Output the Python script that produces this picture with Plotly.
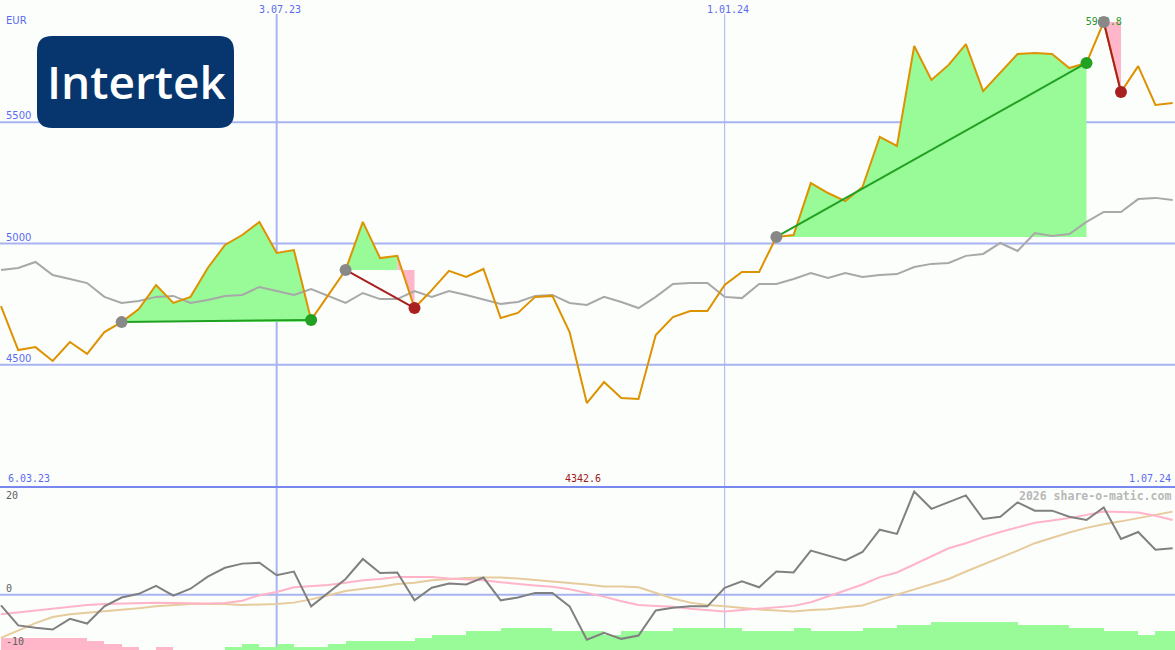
import plotly.graph_objects as go
import pandas as pd

# ---------------- data ----------------
dates = pd.date_range("2023-03-13", periods=69, freq="7D")

price = [4742, 4561, 4573, 4516, 4594, 4545, 4635, 4676, 4730, 4829,
         4755, 4780, 4899, 4994, 5035, 5089, 4961, 4973, 4685, 4788,
         4891, 5089, 4940, 4949, 4734, 4808, 4887, 4862, 4895, 4693,
         4714, 4780, 4784, 4635, 4342.6, 4429, 4363, 4359, 4623, 4697,
         4722, 4722, 4829, 4883, 4883, 5027, 5035, 5249, 5208, 5175,
         5233, 5439, 5402, 5814, 5674, 5736, 5822, 5628, 5703, 5781,
         5785, 5781, 5723, 5744, 5912.8, 5624, 5731, 5571, 5579]

bench = [4891, 4899, 4924, 4870, 4854, 4837, 4780, 4755, 4763, 4780,
         4784, 4755, 4767, 4784, 4788, 4821, 4804, 4788, 4812, 4784,
         4755, 4796, 4771, 4771, 4804, 4780, 4804, 4788, 4771, 4751,
         4759, 4784, 4788, 4755, 4747, 4780, 4759, 4734, 4780, 4833,
         4837, 4837, 4780, 4775, 4833, 4833, 4854, 4878, 4858, 4878,
         4862, 4870, 4874, 4903, 4916, 4920, 4949, 4957, 5002, 4969,
         5043, 5031, 5039, 5089, 5130, 5130, 5183, 5188, 5179]

osc = [-2.3, -6.6, -7.1, -7.5, -5.2, -6.2, -2.5, -0.6, 0.2, 1.9,
       -0.2, 1.3, 3.9, 5.8, 6.7, 6.9, 4.2, 5.0, -2.5, 0.4,
       3.4, 7.7, 4.7, 4.8, -1.2, 1.5, 2.4, 2.2, 3.7, -1.2,
       -0.6, 0.4, 0.4, -2.5, -9.7, -8.2, -9.5, -8.8, -3.4, -2.8,
       -2.5, -2.5, 1.5, 2.9, 1.6, 5.0, 4.8, 9.5, 8.4, 7.4,
       9.2, 14.0, 13.1, 22.2, 18.5, 20.0, 21.4, 16.3, 16.8, 19.9,
       18.1, 18.1, 16.8, 16.1, 18.8, 12.0, 13.5, 9.7, 10.0]

osc_fast = [-4.2, -3.8, -3.4, -2.9, -2.5, -2.2, -2.0, -1.9, -1.8, -1.7,
            -1.8, -1.9, -1.9, -1.8, -1.3, -0.1, 0.6, 1.6, 1.8, 2.1,
            2.6, 3.1, 3.4, 3.8, 3.8, 3.8, 3.5, 3.3, 3.1, 2.7,
            2.3, 2.0, 1.7, 1.2, 0.4, -0.4, -1.4, -2.2, -2.4, -2.6,
            -3.0, -3.3, -3.6, -3.3, -3.0, -2.7, -2.4, -1.6, -0.4, 0.9,
            2.2, 3.8, 4.8, 6.5, 8.3, 10.0, 11.1, 12.4, 13.5, 14.5,
            15.5, 16.0, 16.5, 17.2, 17.9, 17.8, 17.7, 17.0, 16.1]

osc_slow = [-9.3, -7.7, -6.1, -4.8, -4.2, -3.9, -3.6, -3.2, -2.9, -2.5,
            -2.2, -2.0, -2.0, -2.0, -2.2, -2.1, -2.0, -1.7, -1.0, -0.1,
            0.8, 1.3, 1.7, 2.3, 2.6, 3.1, 3.4, 3.6, 3.7, 3.7,
            3.5, 3.2, 2.8, 2.5, 2.2, 1.8, 1.8, 1.6, 0.4, -0.8,
            -1.7, -2.2, -2.5, -2.9, -3.2, -3.4, -3.6, -3.3, -3.1, -2.7,
            -2.3, -1.1, 0.0, 1.1, 2.2, 3.4, 5.0, 6.5, 7.9, 9.5,
            11.1, 12.3, 13.4, 14.4, 15.2, 15.8, 16.5, 17.2, 17.9]

hist = [-4, -4, -4, -4, -4, -3, -2, -1, 0, -1,
        0, 0, 0, 1, 2, 1, 2, 1, 1, 2,
        3, 3, 3, 3, 4, 5, 5, 6, 6, 7,
        7, 7, 6, 6, 6, 5, 6, 6, 6, 7,
        7, 7, 7, 6, 6, 6, 7, 6, 6, 6,
        7, 7, 8, 8, 9, 9, 9, 9, 9, 8,
        8, 8, 7, 7, 6, 6, 5, 6, 6]

trades = [(7, 18), (20, 24), (45, 63), (64, 65)]   # (entry index, exit index)

price_grid = [4500, 5000, 5500]
osc_labels = [20, 0]
month_lines = ["2023-07-03", "2024-01-01"]
month_labels = ["3.07.23", "1.01.24"]
month_widths = [2, 1]
range_labels = ["6.03.23", "1.07.24"]

# ---------------- layout constants ----------------
W, H = 1175, 650
SPLIT = 487                      # px where main panel ends
PX_PER_DAY = 2.4615
x_start = dates[0] - pd.Timedelta(days=0.4)
x_end = x_start + pd.Timedelta(days=W / PX_PER_DAY)
dom_split = 1 - SPLIT / H

BG = "#fcfefc"
GRID = "#a8b4f2"
SEP = "#7888ee"
LBL = "#5b6bf0"
ORANGE = "#dd9200"
BENCH = "#a8a8a8"
FILL_G = "#98fb98"
FILL_R = "#ffb6c8"
WIN = "#22a022"
LOSS = "#a82020"
MONO = "DejaVu Sans Mono"


def px(x):
    return x / W


def py(y):
    return 1 - y / H


fig = go.Figure()

# ----- trade fills: each segment filled between price and entry level,
#       coloured by whether the segment ends above or below the entry -----
for a, b in trades:
    entry = price[a]
    runs = []
    for i in range(a, b):
        col = FILL_G if price[i + 1] >= entry else FILL_R
        if runs and runs[-1][0] == col:
            runs[-1][2] = i + 1
        else:
            runs.append([col, i, i + 1])
    for col, s, e in runs:
        xs = list(dates[s:e + 1])
        ys = price[s:e + 1]
        fig.add_trace(go.Scatter(x=xs + [xs[-1], xs[0]], y=ys + [entry, entry],
                                 mode="lines", fill="toself", fillcolor=col,
                                 line=dict(width=0), hoverinfo="skip", showlegend=False))

# ----- benchmark & price -----
fig.add_trace(go.Scatter(x=dates, y=bench, mode="lines",
                         line=dict(color=BENCH, width=2), showlegend=False))
fig.add_trace(go.Scatter(x=dates, y=price, mode="lines",
                         line=dict(color=ORANGE, width=2), showlegend=False))

# ----- trade lines -----
for a, b in trades:
    col = WIN if price[b] > price[a] else LOSS
    fig.add_trace(go.Scatter(x=[dates[a], dates[b]], y=[price[a], price[b]], mode="lines",
                             line=dict(color=col, width=2), showlegend=False))

# ----- max label (under markers) -----
imax = price.index(max(price))
imin = price.index(min(price))
fig.add_trace(go.Scatter(x=[dates[imax]], y=[price[imax]], mode="text",
                         text=[f"{price[imax]:.1f}"], textposition="middle center",
                         textfont=dict(family=MONO, size=10, color="#2a962a"),
                         showlegend=False))

# ----- markers -----
fig.add_trace(go.Scatter(x=[dates[a] for a, b in trades], y=[price[a] for a, b in trades],
                         mode="markers", marker=dict(size=12, color="#888888"),
                         showlegend=False))
fig.add_trace(go.Scatter(x=[dates[b] for a, b in trades], y=[price[b] for a, b in trades],
                         mode="markers",
                         marker=dict(size=12, color=[WIN if price[b] > price[a] else LOSS
                                                     for a, b in trades]),
                         showlegend=False))

# ----- lower panel: histogram bars -----
fig.add_trace(go.Bar(x=dates, y=[abs(v) for v in hist],
                     marker=dict(color=[FILL_G if v > 0 else FILL_R for v in hist],
                                 line=dict(width=0)),
                     width=7 * 86400000, offset=0, yaxis="y2", showlegend=False))

# ----- lower panel: lines -----
fig.add_trace(go.Scatter(x=dates, y=osc_slow, mode="lines", yaxis="y3",
                         line=dict(color="#e6cc9c", width=2), showlegend=False))
fig.add_trace(go.Scatter(x=dates, y=osc_fast, mode="lines", yaxis="y3",
                         line=dict(color="#ffb4c8", width=2), showlegend=False))
fig.add_trace(go.Scatter(x=dates, y=osc, mode="lines", yaxis="y3",
                         line=dict(color="#808080", width=2), showlegend=False))

# ----- shapes -----
shapes = []
for g in price_grid:
    shapes.append(dict(type="line", xref="paper", yref="y", x0=0, x1=1, y0=g, y1=g,
                       line=dict(color=GRID, width=2), layer="below"))
shapes.append(dict(type="line", xref="paper", yref="y3", x0=0, x1=1, y0=0, y1=0,
                   line=dict(color=GRID, width=2), layer="below"))
for d, wdt in zip(month_lines, month_widths):
    shapes.append(dict(type="line", xref="x", yref="paper", x0=d, x1=d, y0=0, y1=py(14),
                       line=dict(color=GRID, width=wdt), layer="below"))
shapes.append(dict(type="line", xref="paper", yref="paper", x0=0, x1=1,
                   y0=dom_split, y1=dom_split, line=dict(color=SEP, width=2), layer="above"))

# logo: rounded rectangle
lx0, lx1, ly0, ly1, r = 37, 234, 36, 128, 15


def P(x, y):
    return f"{px(x):.5f},{py(y):.5f}"


logo_path = (f"M {P(lx0 + r, ly0)} L {P(lx1 - r, ly0)} Q {P(lx1, ly0)} {P(lx1, ly0 + r)} "
             f"L {P(lx1, ly1 - r)} Q {P(lx1, ly1)} {P(lx1 - r, ly1)} "
             f"L {P(lx0 + r, ly1)} Q {P(lx0, ly1)} {P(lx0, ly1 - r)} "
             f"L {P(lx0, ly0 + r)} Q {P(lx0, ly0)} {P(lx0 + r, ly0)} Z")
shapes.append(dict(type="path", xref="paper", yref="paper", path=logo_path,
                   fillcolor="#07366f", line=dict(width=0), layer="above"))

# ----- annotations -----
ann = []


def text(t, x, y, color, size=10, family=MONO, xanchor="left", yanchor="middle",
         xref="paper", yref="paper", weight=None, **kw):
    f = dict(family=family, size=size, color=color)
    if weight:
        f["weight"] = weight
    ann.append(dict(text=t, x=x, y=y, xref=xref, yref=yref, xanchor=xanchor,
                    yanchor=yanchor, showarrow=False, font=f, **kw))


text("EUR", px(4), py(21), LBL, size=10, family="DejaVu Sans")
for g in price_grid:
    text(str(g), px(4), g, LBL, size=10, family="DejaVu Sans", yref="y",
         yanchor="bottom", yshift=-1)
for d, t in zip(month_lines, month_labels):
    text(t, d, py(2), LBL, xref="x", xanchor="center", yanchor="top", xshift=3)
text(range_labels[0], px(6), py(478), LBL)
text(range_labels[1], px(1173), py(478), LBL, xanchor="right")
text(f"{price[imin]:.1f}", dates[imin], py(478), "#a01818", xref="x", xanchor="center",
     xshift=-4)
for v in osc_labels:
    text(str(v), px(4), v, "#606060", yref="y3", yanchor="bottom", yshift=-1)
text("-10", px(4), py(641), "#606060")
text("<b>2026 share-o-matic.com</b>", px(1173), py(496), "#b8b8b8", size=11.5,
     xanchor="right")
text("Intertek", px((lx0 + lx1) / 2 + 1), py(81), "#ffffff", size=46, family="Open Sans",
     xanchor="center", weight=600)

fig.update_layout(
    width=W, height=H, autosize=False,
    margin=dict(l=0, r=0, t=0, b=0, pad=0),
    paper_bgcolor=BG, plot_bgcolor="rgba(0,0,0,0)",
    showlegend=False, bargap=0, hovermode=False,
    xaxis=dict(type="date", range=[x_start, x_end], visible=False, domain=[0, 1]),
    yaxis=dict(domain=[dom_split, 1], range=[3996.5, 6003.5], visible=False),
    yaxis2=dict(domain=[0, dom_split], range=[0, (H - SPLIT) / 3.1], visible=False),
    yaxis3=dict(overlaying="y2", range=[-11.9, 23.2], visible=False),
    shapes=shapes, annotations=ann,
)

fig.write_html("out.html",
               config={"displayModeBar": False, "staticPlot": True},
               post_script="document.body.style.margin='0';"
                           "document.body.style.background='" + BG + "';")
